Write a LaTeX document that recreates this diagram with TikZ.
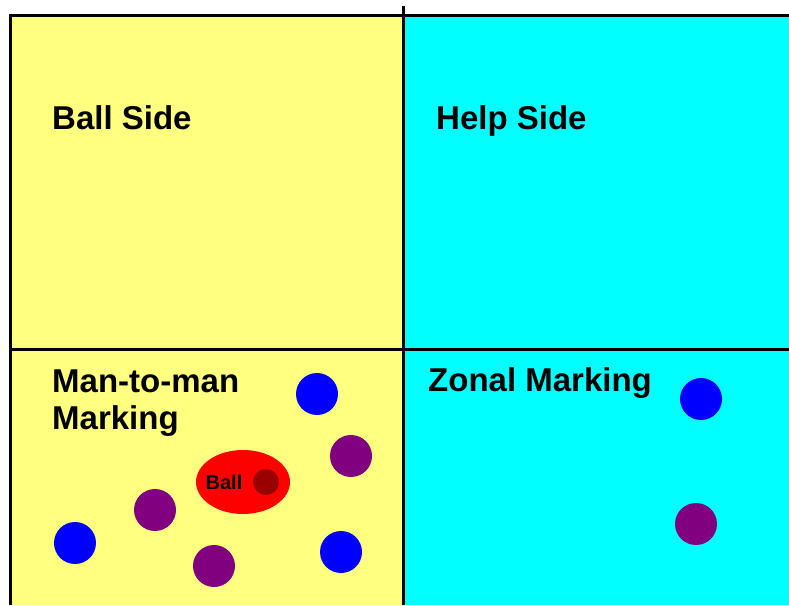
\documentclass[tikz,border=0pt]{standalone}
\usepackage{fontspec}
\setmainfont{Liberation Sans}
\usetikzlibrary{shapes.geometric}
\definecolor{zyellow}{HTML}{FFFF80}
\definecolor{zcyan}{HTML}{00FFFF}
\definecolor{zblue}{HTML}{0000FF}
\definecolor{zpurple}{HTML}{800080}
\definecolor{zred}{HTML}{FF0000}
\definecolor{zdark}{HTML}{990000}
\tikzset{
  player/.style   = {circle, inner sep=0pt, minimum size=42pt},
  attacker/.style = {player, fill=zblue},
  marker/.style   = {player, fill=zpurple},
  zonetext/.style = {anchor=base west, inner sep=0pt, align=left,
                     font=\fontsize{33}{37}\selectfont\bfseries},
  border/.style   = {line width=3pt},
}

\begin{document}
\begin{tikzpicture}[x=1pt,y=1pt]
\useasboundingbox (0,0) rectangle (789,605);
% halves of the pitch
\fill[zyellow] (10,589) rectangle (403,0);
\fill[zcyan] (403,589) rectangle (789,0);
\draw[border] (10,0) |- (789,589);
\draw[border] (403,599) -- (403,0);
\draw[border] (10,255) -- (789,255);

\node[zonetext] (ballside) at (52,475) {Ball Side};
\node[zonetext] (helpside) at (436,475) {Help Side};
\node[zonetext] (man) at (52,212) {Man-to-man};
\node[zonetext] (marking) at (52,175) {Marking};
\node[zonetext] (zonal) at (428,213) {Zonal Marking};

% man-to-man players
\node[ellipse, fill=zred, minimum width=94pt, minimum height=64pt] (ball) at (243,123) {};
\node[circle, fill=zdark, inner sep=0pt, minimum size=26pt] (dot) at (266,123) {};
\node[font=\fontsize{20}{22}\selectfont\bfseries, inner sep=0pt] (balltext) at (224,123) {Ball};
\node[attacker] (a1) at (317,211) {};
\node[attacker] (a2) at (75,62) {};
\node[attacker] (a3) at (341,53) {};
\node[marker] (m1) at (351,149) {};
\node[marker] (m2) at (155,95) {};
\node[marker] (m3) at (214,39) {};

% zonal players
\node[attacker] (za) at (701,206) {};
\node[marker] (zm) at (696,81) {};
\end{tikzpicture}
\end{document}
